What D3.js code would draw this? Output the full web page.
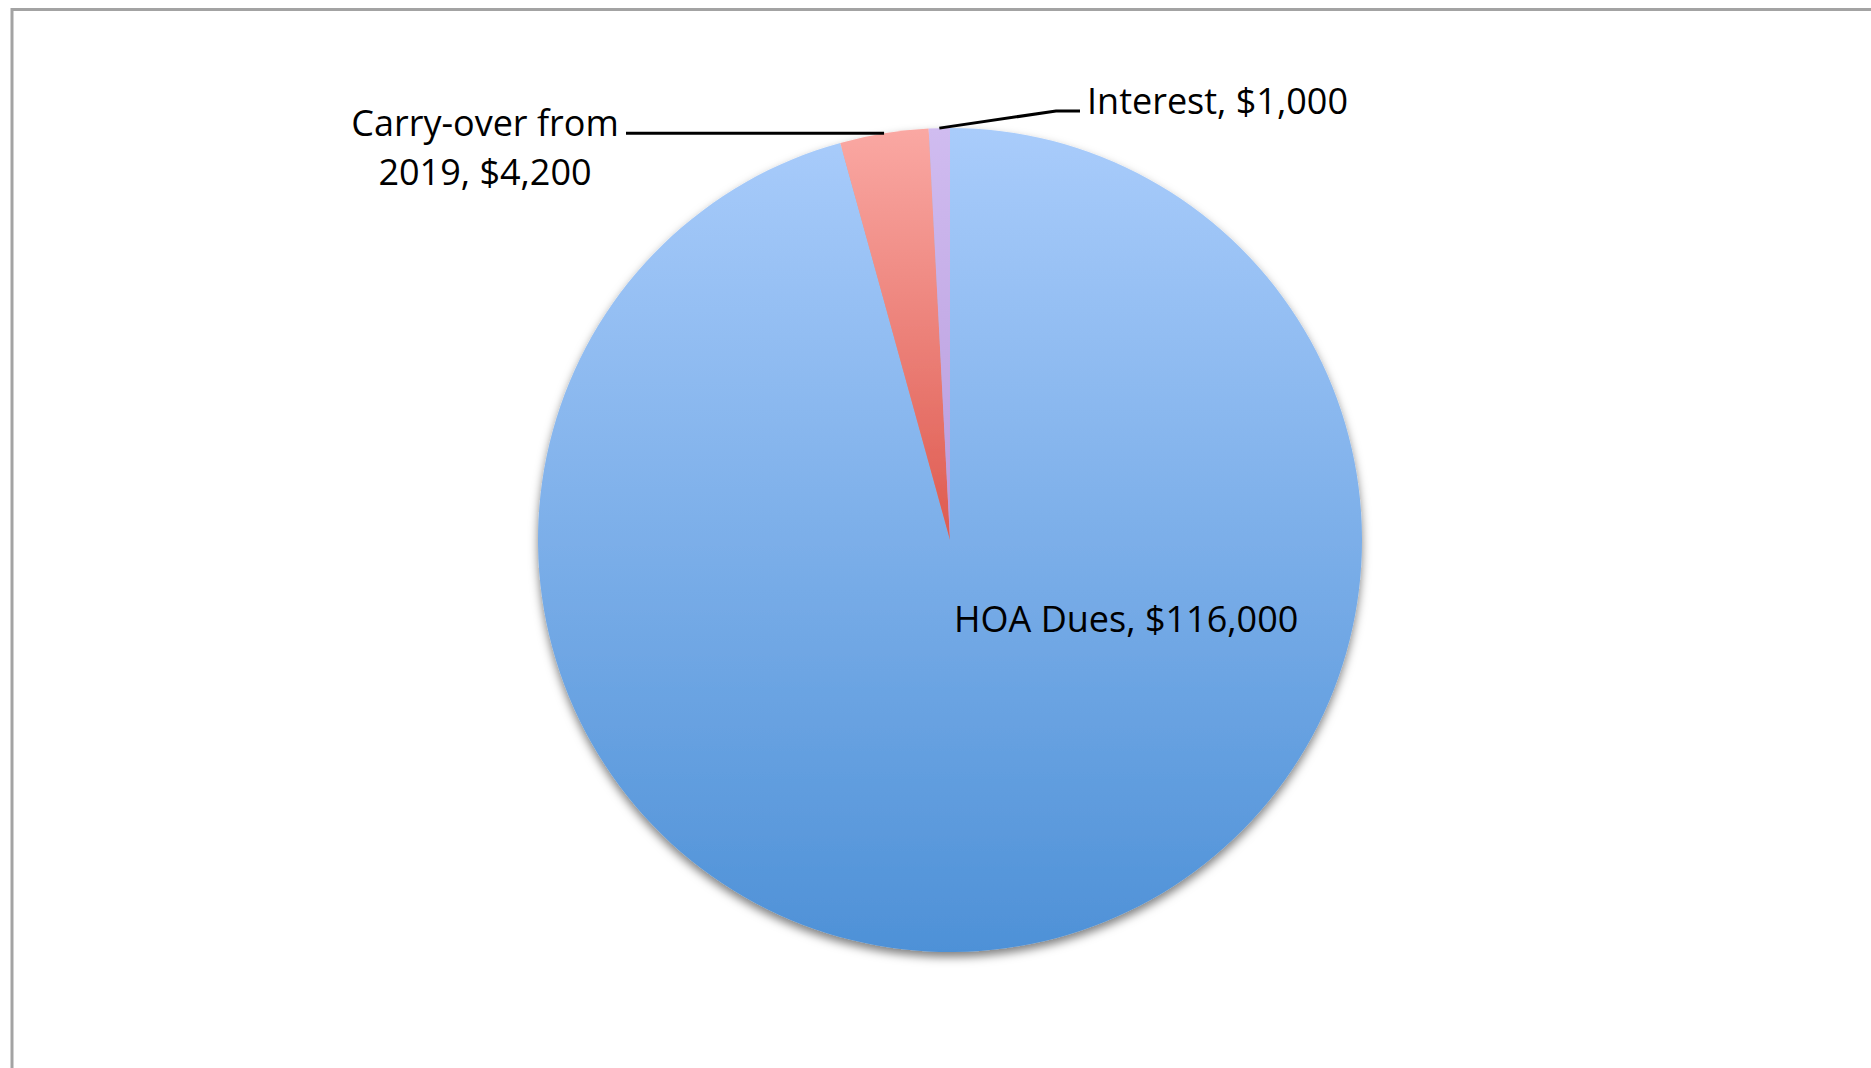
<!DOCTYPE html>
<html>
<head>
<meta charset="utf-8">
<script src="https://cdn.jsdelivr.net/npm/d3@7"></script>
<style>
  html, body { margin: 0; padding: 0; background: #fff; }
  svg { display: block; }
  .label { font-family: "Open Sans", "Liberation Sans", sans-serif; font-size: 36px; fill: #000; }
</style>
</head>
<body>
<svg id="chart"></svg>
<script>
// ─── Data ─────────────────────────────────────────────────────────────────────
const categories = ["HOA Dues", "Carry-over from 2019", "Interest"];
const amounts    = [116000, 4200, 1000];

// ─── Configuration ────────────────────────────────────────────────────────────
const CONFIG = {
  width: 1871,
  height: 1068,
  center: { x: 950, y: 540 },
  radius: 412,
  frame: { x: 12, y: 9.5, stroke: "#a3a3a3", width: 3 },
  // gradient top → bottom for each slice (bounding box of the slice)
  gradients: [
    ["#a9ccfb", "#4e91d7"],
    ["#faa8a3", "#de5a4f"],
    ["#d0bcf0", "#b89bdc"]
  ],
  // label placement relative to the pie centre, plus leader-line elbows
  labels: [
    { dx: 4,    dy: 92,   anchor: "start",  leader: null },
    { dx: -465, dy: -404, anchor: "middle", leader: { elbowDx: -324 } },
    { dx: 137,  dy: -426, anchor: "start",  leader: { elbowDx: 106, elbowDy: -429, endDx: 130 } }
  ],
  lineGap: 49
};

const formatMoney = d3.format("$,");

const records = categories.map((c, i) => ({ category: c, amount: amounts[i] }));

// ─── SVG setup ────────────────────────────────────────────────────────────────
const svg = d3.select("#chart")
  .attr("width", CONFIG.width)
  .attr("height", CONFIG.height);

const defs = svg.append("defs");

CONFIG.gradients.forEach((stops, i) => {
  const g = defs.append("linearGradient")
    .attr("id", `slice-grad-${i}`)
    .attr("x1", "0%").attr("x2", "0%")
    .attr("y1", "0%").attr("y2", "100%");
  g.append("stop").attr("offset", "0%").attr("stop-color", stops[0]);
  g.append("stop").attr("offset", "100%").attr("stop-color", stops[1]);
});

const shadow = defs.append("filter")
  .attr("id", "pie-shadow")
  .attr("x", "-10%").attr("y", "-10%")
  .attr("width", "120%").attr("height", "125%");
shadow.append("feDropShadow")
  .attr("dx", 0).attr("dy", 5)
  .attr("stdDeviation", 5)
  .attr("flood-color", "#000")
  .attr("flood-opacity", 0.5);

// Frame (runs off the right and bottom edges like the reference)
svg.append("rect")
  .attr("x", CONFIG.frame.x)
  .attr("y", CONFIG.frame.y)
  .attr("width", CONFIG.width)
  .attr("height", CONFIG.height)
  .attr("fill", "#fff")
  .attr("stroke", CONFIG.frame.stroke)
  .attr("stroke-width", CONFIG.frame.width);

const root = svg.append("g")
  .attr("transform", `translate(${CONFIG.center.x},${CONFIG.center.y})`);

// ─── Pie ──────────────────────────────────────────────────────────────────────
const pie = d3.pie().sort(null).value(d => d.amount);
const arcs = pie(records);

const arc = d3.arc().innerRadius(0).outerRadius(CONFIG.radius);
const edgeArc = d3.arc().innerRadius(CONFIG.radius).outerRadius(CONFIG.radius);

root.append("g")
  .attr("filter", "url(#pie-shadow)")
  .selectAll("path")
  .data(arcs)
  .join("path")
  .attr("d", arc)
  .attr("fill", (d, i) => `url(#slice-grad-${i})`);

// ─── Labels ───────────────────────────────────────────────────────────────────
// Carry-over label wraps after "from", like the reference.
function labelLines(d) {
  const value = formatMoney(d.data.amount);
  if (d.data.category.startsWith("Carry-over")) {
    return ["Carry-over from", `2019, ${value}`];
  }
  return [`${d.data.category}, ${value}`];
}

const labelLayer = root.append("g");

arcs.forEach((d, i) => {
  const L = CONFIG.labels[i];
  const lines = labelLines(d);

  const text = labelLayer.append("text")
    .attr("class", "label")
    .attr("text-anchor", L.anchor);
  lines.forEach((ln, j) => {
    text.append("tspan")
      .attr("x", L.dx)
      .attr("y", L.dy + j * CONFIG.lineGap)
      .text(ln);
  });

  if (L.leader) {
    const [ex, ey] = edgeArc.centroid(d);
    const pts = L.leader.endDx === undefined
      ? [[ex, ey], [L.leader.elbowDx, ey]]
      : [[ex, ey], [L.leader.elbowDx, L.leader.elbowDy], [L.leader.endDx, L.leader.elbowDy]];
    labelLayer.append("path")
      .attr("d", d3.line()(pts))
      .attr("fill", "none")
      .attr("stroke", "#000")
      .attr("stroke-width", 3);
  }
});
</script>
</body>
</html>
